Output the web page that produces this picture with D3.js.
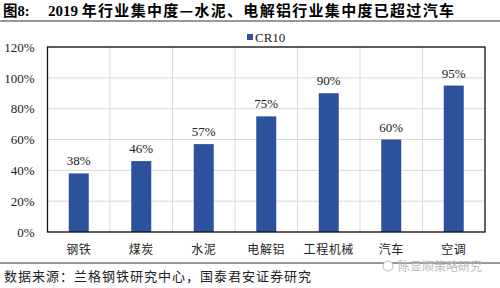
<html>
<head>
<meta charset="utf-8">
<script src="https://d3js.org/d3.v7.min.js"></script>
<style>
    body { margin: 0; background: #fff; }
    svg { display: block; }
    .serif { font-family: "Liberation Serif", "Times New Roman", serif; }
    .cjk { font-family: "Noto Sans CJK SC", sans-serif; }
</style>
</head>
<body>
<svg id="chart" width="500" height="288"></svg>
<script>
    var categories = ["钢铁", "煤炭", "水泥", "电解铝", "工程机械", "汽车", "空调"];
    var cr10 = [38, 46, 57, 75, 90, 60, 95];
    var yTicks = [0, 20, 40, 60, 80, 100, 120];

    var width = 500, height = 288;
    var margin = { left: 47.5, right: 15, top: 47, bottom: 56 };
    var barColor = "#2c529d";

    var svg = d3.select("#chart");

    // title
    svg.append("text").attr("x", 3).attr("y", 16).attr("font-size", 14.5).attr("font-weight", "bold")
        .call(function (t) {
            t.append("tspan").attr("class", "cjk").text("图");
            t.append("tspan").attr("class", "serif").text("8:");
        });
    var title = svg.append("text").attr("x", 48).attr("y", 16)
        .attr("font-size", 15).attr("font-weight", "bold");
    title.append("tspan").attr("class", "serif").text("2019 ");
    title.append("tspan").attr("class", "cjk").attr("letter-spacing", 1.3)
        .text("年行业集中度—水泥、电解铝行业集中度已超过汽车");

    svg.append("line").attr("x1", 0).attr("x2", width).attr("y1", 21).attr("y2", 21)
        .attr("stroke", "#333").attr("stroke-width", 1);

    var x = d3.scaleBand().domain(categories)
        .range([margin.left, width - margin.right]).paddingInner(0).paddingOuter(0);
    var y = d3.scaleLinear().domain([0, 120]).range([height - margin.bottom, margin.top]);

    var grid = svg.append("g");
    grid.selectAll("line.h").data(yTicks).enter().append("line")
        .attr("x1", x.range()[0]).attr("x2", x.range()[1])
        .attr("y1", function (d) { return y(d); }).attr("y2", function (d) { return y(d); })
        .attr("stroke", "#d9d9d9").attr("stroke-width", 1);
    grid.selectAll("line.v").data(categories).enter().append("line")
        .attr("x1", function (d) { return x(d); }).attr("x2", function (d) { return x(d); })
        .attr("y1", y(0)).attr("y2", y(120))
        .attr("stroke", "#d9d9d9").attr("stroke-width", 1);

    var bw = 20;
    svg.append("g").selectAll("rect").data(cr10).enter().append("rect")
        .attr("x", function (d, i) { return x(categories[i]) + x.bandwidth() / 2 - bw / 2; })
        .attr("y", function (d) { return y(d); })
        .attr("width", bw)
        .attr("height", function (d) { return y(0) - y(d); })
        .attr("fill", barColor);

    svg.append("g").selectAll("text").data(cr10).enter().append("text")
        .attr("class", "serif")
        .attr("x", function (d, i) { return x(categories[i]) + x.bandwidth() / 2; })
        .attr("y", function (d) { return y(d) - 8; })
        .attr("text-anchor", "middle").attr("font-size", 13).attr("fill", "#222")
        .text(function (d) { return d + "%"; });

    // plot border
    svg.append("rect").attr("x", x.range()[0]).attr("y", y(120))
        .attr("width", x.range()[1] - x.range()[0]).attr("height", y(0) - y(120))
        .attr("fill", "none").attr("stroke", "#111").attr("stroke-width", 1.3);

    // y axis labels
    var yAxis = svg.append("g").attr("transform", "translate(" + (margin.left - 10) + ",0)")
        .call(d3.axisLeft(y).tickValues(yTicks).tickSize(0).tickFormat(function (d) { return d + "%"; }));
    yAxis.select(".domain").remove();
    yAxis.selectAll("text").attr("class", "serif").attr("font-size", 13).attr("fill", "#222");

    // x axis labels
    var xAxis = svg.append("g").attr("transform", "translate(0," + (y(0) + 10) + ")")
        .call(d3.axisBottom(x).tickSize(0));
    xAxis.select(".domain").remove();
    xAxis.selectAll("text").attr("class", "cjk").attr("font-size", 12).attr("letter-spacing", 0.6)
        .attr("fill", "#222");

    // legend
    var lg = svg.append("g").attr("transform", "translate(247,32)");
    lg.append("rect").attr("x", 0).attr("y", 2).attr("width", 6).attr("height", 6).attr("fill", barColor);
    lg.append("text").attr("class", "serif").attr("x", 8).attr("y", 9.5)
        .attr("font-size", 13).attr("fill", "#222").text("CR10");

    // footer
    svg.append("line").attr("x1", 0).attr("x2", width).attr("y1", 263).attr("y2", 263)
        .attr("stroke", "#333").attr("stroke-width", 1);
    svg.append("text").attr("class", "cjk").attr("x", 4).attr("y", 281)
        .attr("font-size", 13).attr("letter-spacing", 1).attr("fill", "#222")
        .text("数据来源：兰格钢铁研究中心，国泰君安证券研究");
    svg.append("text").attr("class", "cjk").attr("x", 398).attr("y", 271)
        .attr("font-size", 12).attr("fill", "#bbb")
        .text("陈显顺策略研究");
    svg.append("circle").attr("cx", 388).attr("cy", 266).attr("r", 5)
        .attr("fill", "#fff").attr("stroke", "#bbb");
</script>
</body>
</html>
